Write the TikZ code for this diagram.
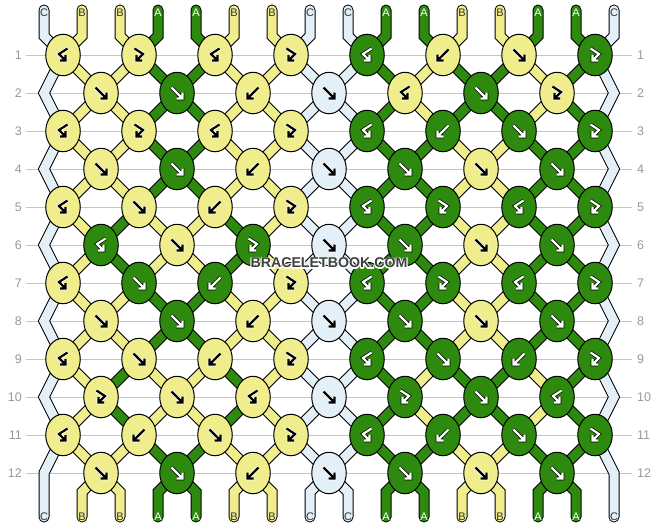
\documentclass[tikz,border=0pt]{standalone}
\usepackage{fontspec}
\setmainfont{Liberation Sans}
\usetikzlibrary{shapes.geometric}
\definecolor{colA}{HTML}{2E8A0E}
\definecolor{colB}{HTML}{F0EE8C}
\definecolor{colC}{HTML}{E4F0F8}
\colorlet{fgA}{white}\colorlet{fgB}{black}\colorlet{fgC}{black}
\colorlet{bgA}{black}\colorlet{bgB}{white}\colorlet{bgC}{white}
\definecolor{txA}{HTML}{FFFFFF}\definecolor{txB}{HTML}{333333}\definecolor{txC}{HTML}{333333}
\definecolor{rowline}{HTML}{C4C4C4}
\definecolor{rowlbl}{HTML}{999999}
\definecolor{wmark}{HTML}{404040}
\newcommand\rowfont{\fontsize{12.5}{14}\selectfont}
\newcommand\letfont{\fontsize{11}{12}\selectfont}
\newcommand\wmfont{\fontsize{14.2}{14}\selectfont\bfseries}
\newcommand\wmtext{BRACELETBOOK.COM}
\tikzset{
  knot/.style={ellipse, draw=black, line width=1pt, minimum width=34.5pt, minimum height=41.5pt, inner sep=0pt},
  strout/.style={line width=11pt, draw=black, line join=miter},
  strin/.style={line width=9pt, line join=miter},
  capr/.style={line cap=round},
  glyphhalo/.style={line width=3.6pt},
  glyphmain/.style={line width=2.2pt},
}
\newcommand\glyphF[2]{%
  \begin{scope}[shift={(#1)}]
    \draw[glyphhalo, color=bg#2] (-5.5,-5.5)--(5.5,5.5) (5.5,-0.5)--(5.5,5.5)--(-0.5,5.5);
    \draw[glyphmain, color=fg#2] (-5.5,-5.5)--(5.5,5.5) (5.5,-0.5)--(5.5,5.5)--(-0.5,5.5);
  \end{scope}}
\newcommand\glyphB[2]{%
  \begin{scope}[shift={(#1)}]
    \draw[glyphhalo, color=bg#2] (5.5,-5.5)--(-5.5,5.5) (-5.5,-0.5)--(-5.5,5.5)--(0.5,5.5);
    \draw[glyphmain, color=fg#2] (5.5,-5.5)--(-5.5,5.5) (-5.5,-0.5)--(-5.5,5.5)--(0.5,5.5);
  \end{scope}}
\newcommand\glyphFB[2]{%
  \begin{scope}[shift={(#1)}]
    \draw[glyphhalo, color=bg#2] (-4.5,-6.5)--(4,-1)--(-2.5,5.5) (-2.5,0)--(-2.5,5.5)--(3,5.5);
    \draw[glyphmain, color=fg#2] (-4.5,-6.5)--(4,-1)--(-2.5,5.5) (-2.5,0)--(-2.5,5.5)--(3,5.5);
  \end{scope}}
\newcommand\glyphBF[2]{%
  \begin{scope}[shift={(#1)}]
    \draw[glyphhalo, color=bg#2] (4.5,-6.5)--(-4,-1)--(2.5,5.5) (2.5,0)--(2.5,5.5)--(-3,5.5);
    \draw[glyphmain, color=fg#2] (4.5,-6.5)--(-4,-1)--(2.5,5.5) (2.5,0)--(2.5,5.5)--(-3,5.5);
  \end{scope}}
\newcommand\knotrow[2]{%
  \foreach \kc/\kt [count=\k] in {#2}{%
    \ifodd#1\relax \pgfmathsetmacro\kx{63+76*(\k-1)}\else \pgfmathsetmacro\kx{101+76*(\k-1)}\fi
    \node[knot, fill=col\kc] (K-#1-\k) at (\kx, {55+38*(#1-1)}) {};
    \csname glyph\kt\endcsname{K-#1-\k}{\kc}%
  }}
\newcommand\segrow[2]{%
  \pgfmathtruncatemacro\rn{#1+1}%
  \foreach \sc [count=\i] in {#2}{%
    \ifnum\i>1\relax\ifnum\i<16\relax
      \draw[strout] (P-#1-\i)--(P-\rn-\i);
      \draw[strin, color=col\sc] (P-#1-\i)--(P-\rn-\i);
    \fi\fi}}
\begin{document}
\begin{tikzpicture}[x=1pt,y=-1pt]
\fill[white] (0,0) rectangle (658,528);
\useasboundingbox (0,0) rectangle (658,528);
% row guide lines and labels
\foreach \r in {1,...,12}{
  \draw[rowline, line width=1pt] (26,{55+38*(\r-1)}) -- (632,{55+38*(\r-1)});
  \node[anchor=east, text=rowlbl, font=\rowfont, inner sep=0pt] (rl-\r) at (22,{55+38*(\r-1)}) {\r};
  \node[anchor=west, text=rowlbl, font=\rowfont, inner sep=0pt] (rr-\r) at (637,{55+38*(\r-1)}) {\r};
}
% coordinates
\foreach \i in {1,...,16}{
  \pgfmathsetmacro\sx{44+38*(\i-1)}
  \coordinate (T-\i) at (\sx,10);
  \coordinate (U-\i) at (\sx,36);
  \coordinate (V-\i) at (\sx,492);
  \coordinate (W-\i) at (\sx,517);
}
\foreach \r in {1,...,12}{\foreach \i in {1,...,16}{
  \ifodd\r\relax
    \pgfmathsetmacro\px{63+76*floor((\i-1)/2)}
  \else
    \ifnum\i=1\relax \def\px{44}\else\ifnum\i=16\relax \def\px{614}\else
      \pgfmathsetmacro\px{25+76*floor(\i/2)}\fi\fi
  \fi
  \coordinate (P-\r-\i) at (\px,{55+38*(\r-1)});
}}
% edge strings
\draw[strout,capr] (T-1)--(U-1) \foreach \r in {1,...,12}{--(P-\r-1)} --(W-1);
\draw[strin,capr,color=colC] (T-1)--(U-1) \foreach \r in {1,...,12}{--(P-\r-1)} --(W-1);
\draw[strout,capr] (T-16)--(U-16) \foreach \r in {1,...,12}{--(P-\r-16)} --(W-16);
\draw[strin,capr,color=colC] (T-16)--(U-16) \foreach \r in {1,...,12}{--(P-\r-16)} --(W-16);
% top and bottom ends
\foreach \sc [count=\i] in {C,B,B,A,A,B,B,C,C,A,A,B,B,A,A,C}{%
  \ifnum\i>1\relax\ifnum\i<16\relax
    \draw[strout,capr] (T-\i)--(U-\i)--(P-1-\i);
    \draw[strin,capr,color=col\sc] (T-\i)--(U-\i)--(P-1-\i);
    \draw[strout,capr] (P-12-\i)--(V-\i)--(W-\i);
    \draw[strin,capr,color=col\sc] (P-12-\i)--(V-\i)--(W-\i);
  \fi\fi}
% segments between rows
\segrow{1}{C,B,B,A,A,B,B,C,C,A,B,A,A,B,A,C}
\segrow{2}{C,B,B,A,A,B,B,C,C,A,B,A,A,B,A,C}
\segrow{3}{C,B,B,A,A,B,B,C,C,A,A,B,B,A,A,C}
\segrow{4}{C,B,B,A,A,B,B,C,C,A,A,B,B,A,A,C}
\segrow{5}{C,B,A,B,B,A,B,C,C,A,A,B,B,A,A,C}
\segrow{6}{C,B,A,B,B,A,B,C,C,A,A,B,B,A,A,C}
\segrow{7}{C,B,B,A,A,B,B,C,C,A,A,B,B,A,A,C}
\segrow{8}{C,B,B,A,A,B,B,C,C,A,A,B,B,A,A,C}
\segrow{9}{C,B,A,B,B,A,B,C,C,A,B,A,A,B,A,C}
\segrow{10}{C,B,A,B,B,A,B,C,C,A,B,A,A,B,A,C}
\segrow{11}{C,B,B,A,A,B,B,C,C,A,A,B,B,A,A,C}
% knots
\knotrow{1}{B/BF,B/FB,B/BF,B/FB,A/BF,B/B,B/F,A/FB}
\knotrow{2}{B/F,A/F,B/B,C/F,B/BF,A/F,B/FB}
\knotrow{3}{B/BF,B/FB,B/BF,B/FB,A/BF,A/B,A/F,A/FB}
\knotrow{4}{B/F,A/F,B/B,C/F,A/F,B/F,A/F}
\knotrow{5}{B/BF,B/F,B/B,B/FB,A/BF,A/FB,A/BF,A/FB}
\knotrow{6}{A/BF,B/F,A/FB,C/F,A/F,B/F,A/F}
\knotrow{7}{B/BF,A/F,A/B,B/FB,A/BF,A/FB,A/BF,A/FB}
\knotrow{8}{B/F,A/F,B/B,C/F,A/F,B/F,A/F}
\knotrow{9}{B/BF,B/F,B/B,B/FB,A/BF,A/F,A/B,A/FB}
\knotrow{10}{B/FB,B/F,B/BF,C/F,A/FB,A/F,A/BF}
\knotrow{11}{B/BF,B/B,B/F,B/FB,A/BF,A/B,A/F,A/FB}
\knotrow{12}{B/F,A/F,B/B,C/F,A/F,B/F,A/F}
% string letters
\foreach \sc [count=\i] in {C,B,B,A,A,B,B,C,C,A,A,B,B,A,A,C}{%
  \pgfmathsetmacro\sx{44+38*(\i-1)}
  \node[font=\letfont, text=tx\sc, inner sep=0pt] (lt-\i) at (\sx,13) {\sc};
  \node[font=\letfont, text=tx\sc, inner sep=0pt] (lb-\i) at (\sx,516.5) {\sc};
}
% watermark: one node; a white stroked pass under the dark filled text
\node[font=\wmfont, text=wmark, inner sep=0pt] (wm) at (329,263)
  {\special{pdf:literal direct 1 Tr 1 1 1 RG 2.2 w 1 j}\rlap{\wmtext}\special{pdf:literal direct 0 Tr}\wmtext};
\end{tikzpicture}
\end{document}
